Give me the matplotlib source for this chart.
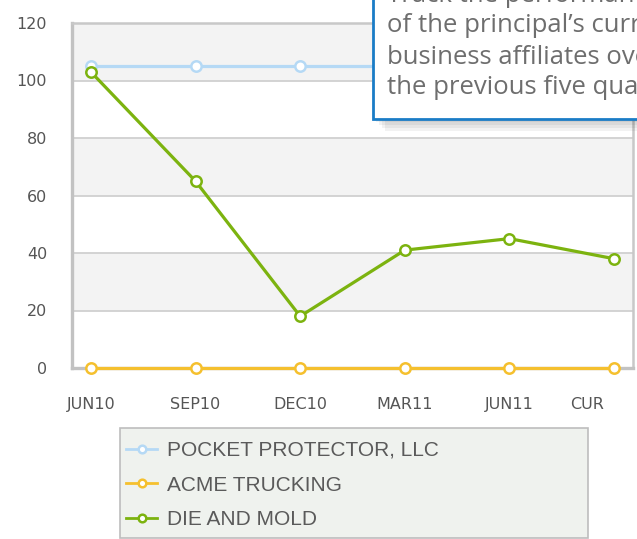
import matplotlib
matplotlib.use('Agg')
import matplotlib.pyplot as plt
import matplotlib.patches as mpatches
import matplotlib.transforms as mtransforms

# data
quarters = ['JUN10', 'SEP10', 'DEC10', 'MAR11', 'JUN11', 'CUR']
pocket_protector = [105, 105, 105, 105, 105, 105]
acme_trucking = [0, 0, 0, 0, 0, 0]
die_and_mold = [103, 65, 18, 41, 45, 38]
series_names = ['POCKET PROTECTOR, LLC', 'ACME TRUCKING', 'DIE AND MOLD']
tooltip_lines = ['Track the performance',
                 'of the principal\u2019s current',
                 'business affiliates over',
                 'the previous five quarters.']

colors = ['#b5d9f5', '#f5c02e', '#7cb30f']

fig = plt.figure(figsize=(6.37, 5.39), dpi=100)
ax = fig.add_axes([72 / 637, (539 - 368) / 539, (633 - 72) / 637, (368 - 23) / 539])
ax.set_facecolor('white')

x = list(range(len(quarters)))

# alternating bands, gray on 20-40, 60-80, 100-120
for lo in [20, 60, 100]:
    ax.add_patch(mpatches.Rectangle((0, lo), 1, 20, transform=ax.get_yaxis_transform(),
                                    facecolor='#f3f3f3', lw=0, zorder=0.5))
for yv in range(20, 120, 20):
    ax.axhline(yv, color='#d0d0d0', lw=1.3, zorder=1)

handles = []
for vals, c, name in zip([pocket_protector, acme_trucking, die_and_mold], colors, series_names):
    h, = ax.plot(x, vals, color=c, lw=2.3, marker='o', markersize=7.5,
                 markerfacecolor='white', markeredgecolor=c, markeredgewidth=1.8,
                 label=name, zorder=3, clip_on=False)
    handles.append(h)

ax.set_xlim(-0.18, 5.18)
ax.set_ylim(0, 120)
ax.set_yticks(range(0, 121, 20))
ax.set_xticks(x)
ax.set_xticklabels(quarters)
ax.tick_params(axis='both', length=0, labelsize=11.5, labelcolor='#555555')
ax.tick_params(axis='y', pad=18)
ax.tick_params(axis='x', pad=21)
ax.get_xticklabels()[-1].set_transform(
    ax.get_xticklabels()[-1].get_transform()
    + mtransforms.ScaledTranslation(-0.27, 0, fig.dpi_scale_trans))

for side in ['left', 'bottom']:
    ax.spines[side].set_color('#c2c2c2')
    ax.spines[side].set_linewidth(2.4)
for side in ['top', 'right']:
    ax.spines[side].set_color('#c8c8c8')
    ax.spines[side].set_linewidth(1.8)

# legend with its own frame
fig.patches.append(mpatches.Rectangle((120 / 637, (539 - 538) / 539), 468 / 637, 110 / 539,
                                      transform=fig.transFigure, facecolor='#eff2ee',
                                      edgecolor='#bdbdbd', lw=1.2, zorder=0))
leg = fig.legend(handles=handles, loc='upper left', bbox_to_anchor=(126 / 637, (539 - 441) / 539),
                 frameon=False, handlelength=1.5, handletextpad=0.45,
                 labelspacing=0.75, borderaxespad=0, borderpad=0,
                 prop={'family': ['Liberation Sans', 'DejaVu Sans'], 'size': 15})
for t in leg.get_texts():
    t.set_color('#5a5a5a')
for h in leg.legend_handles:
    h.set_markersize(5.5)
    h.set_linewidth(2)

# tooltip box with shadow
for i in range(4):
    off = 3 + i * 3
    fig.patches.append(mpatches.Rectangle(((373 + off) / 637, (539 - 119 - off) / 539),
                                          300 / 637, 200 / 539, transform=fig.transFigure,
                                          facecolor='black', alpha=0.05, lw=0, zorder=5))
fig.patches.append(mpatches.Rectangle((373 / 637, (539 - 119) / 539), 300 / 637, 200 / 539,
                                      transform=fig.transFigure, facecolor='white',
                                      edgecolor='#1a7cc6', lw=2, zorder=6))
for i, line in enumerate(tooltip_lines):
    fig.text(387 / 637, (539 - (-5 + 31 * i)) / 539, line, fontsize=18.5, color='#6e6e6e',
             va='center', ha='left', family=['Open Sans', 'DejaVu Sans'], zorder=7)

fig.savefig('out.png', dpi=100)
